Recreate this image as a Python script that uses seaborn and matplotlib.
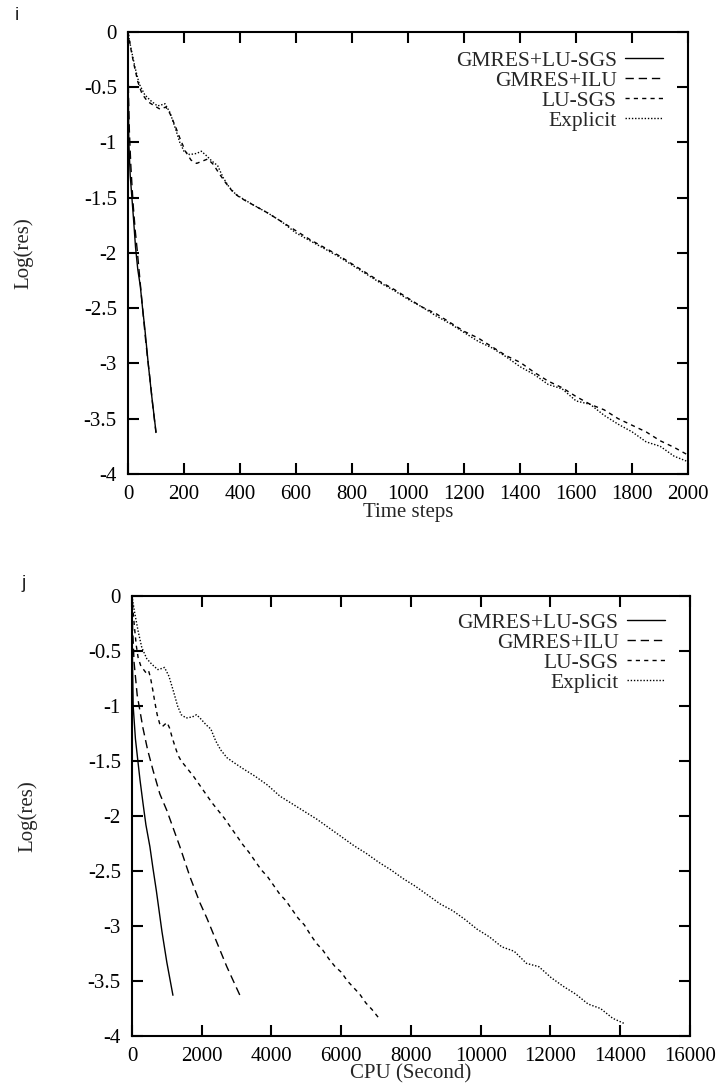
import matplotlib
matplotlib.use("Agg")
import matplotlib.pyplot as plt
import seaborn as sns

# ---------------- data: panel i (time steps) ----------------
gl_steps = [0, 1, 3, 8, 14, 20, 27, 35, 44, 52, 60, 73, 85, 100]
gl_res = [0, -0.5, -1.0, -1.3, -1.5, -1.7, -1.95, -2.15, -2.3, -2.5, -2.68, -3.02, -3.3, -3.62]

gi_steps = [0, 0.6, 2, 5, 10, 14.5, 19, 26, 32, 44, 54, 63, 69, 79, 88, 100]
gi_res = [0, -0.3, -0.6, -0.9, -1.2, -1.4, -1.58, -1.8, -1.95, -2.28, -2.55, -2.79, -2.93, -3.15, -3.37, -3.63]

lu_steps = [0, 10, 20, 35, 50, 70, 95, 115, 135, 150, 170, 185, 205, 225, 245, 265, 285, 305, 325, 350,
            375, 400, 450, 500, 550, 600, 650, 700, 750, 800, 850, 900, 950, 1000, 1050, 1100, 1150, 1200,
            1250, 1300, 1350, 1400, 1450, 1500, 1550, 1600, 1650, 1700, 1750, 1800, 1850, 1900, 1950, 2000]
lu_res = [0, -0.15, -0.28, -0.45, -0.56, -0.63, -0.67, -0.70, -0.68, -0.74, -0.86, -0.96, -1.08, -1.16,
          -1.19, -1.17, -1.15, -1.20, -1.28, -1.37, -1.45, -1.50, -1.57, -1.64, -1.72, -1.80, -1.88, -1.95,
          -2.02, -2.10, -2.18, -2.26, -2.33, -2.41, -2.49, -2.55, -2.63, -2.71, -2.77, -2.85, -2.93, -2.99,
          -3.08, -3.16, -3.22, -3.30, -3.37, -3.42, -3.50, -3.56, -3.62, -3.70, -3.76, -3.83]

ex_steps = [0, 10, 25, 40, 60, 80, 105, 120, 132, 150, 170, 185, 200, 220, 245, 262, 280, 300, 320, 340,
            360, 385, 410, 450, 500, 550, 600, 650, 700, 750, 800, 850, 900, 950, 1000, 1050, 1100, 1150,
            1200, 1250, 1300, 1350, 1400, 1450, 1500, 1550, 1600, 1650, 1700, 1750, 1800, 1850, 1900, 1950, 2000]
ex_res = [0, -0.14, -0.32, -0.47, -0.57, -0.62, -0.67, -0.66, -0.65, -0.73, -0.88, -1.00, -1.08, -1.11,
          -1.10, -1.08, -1.12, -1.17, -1.21, -1.32, -1.40, -1.47, -1.51, -1.57, -1.64, -1.72, -1.82, -1.89,
          -1.96, -2.03, -2.11, -2.19, -2.27, -2.34, -2.42, -2.49, -2.57, -2.64, -2.72, -2.80, -2.86, -2.94,
          -3.03, -3.10, -3.19, -3.23, -3.34, -3.37, -3.47, -3.55, -3.62, -3.71, -3.75, -3.84, -3.89]

# ---------------- data: panel j (CPU seconds) ----------------
gl_cpu = [0, 12, 35, 100, 170, 230, 315, 400, 515, 600, 700, 860, 1000, 1175]
gl_cpu_res = [0, -0.5, -1.0, -1.3, -1.5, -1.67, -1.88, -2.08, -2.28, -2.47, -2.68, -3.05, -3.33, -3.63]

gi_cpu = [0, 20, 60, 150, 315, 450, 600, 800, 1000, 1375, 1660, 1950, 2150, 2435, 2720, 3095]
gi_cpu_res = [0, -0.3, -0.6, -0.9, -1.2, -1.4, -1.58, -1.8, -1.95, -2.28, -2.55, -2.79, -2.93, -3.15, -3.37, -3.63]

lu_cpu = [0, 35, 71, 124, 177, 247, 335, 406, 477, 530, 600, 653, 724, 794, 865, 935, 1006, 1077, 1147,
          1236, 1324, 1412, 1589, 1765, 1942, 2118, 2295, 2471, 2648, 2824, 3001, 3177, 3354, 3530, 3707,
          3883, 4060, 4236, 4413, 4589, 4766, 4942, 5119, 5295, 5472, 5648, 5825, 6001, 6178, 6354, 6531,
          6707, 6884, 7060]

ex_cpu = [0, 71, 177, 283, 424, 566, 742, 848, 933, 1061, 1202, 1308, 1414, 1555, 1732, 1852, 1980, 2121,
          2262, 2404, 2545, 2722, 2899, 3182, 3535, 3889, 4242, 4596, 4949, 5303, 5656, 6010, 6363, 6717,
          7070, 7424, 7777, 8131, 8484, 8838, 9191, 9545, 9898, 10252, 10605, 10959, 11312, 11666, 12019,
          12373, 12726, 13080, 13433, 13787, 14140]

labels = ["GMRES+LU-SGS", "GMRES+ILU", "LU-SGS", "Explicit"]
styles = ["-", (0, (6, 3.5)), (0, (3, 3)), (0, (1, 1.3))]

# ---------------- style ----------------
sns.set_theme(style="ticks")
plt.rcParams["font.family"] = ["Liberation Serif", "DejaVu Serif"]
plt.rcParams["axes.linewidth"] = 1.5
plt.rcParams["xtick.direction"] = "in"
plt.rcParams["ytick.direction"] = "in"

fig = plt.figure(figsize=(7.21, 10.92), dpi=100)
ax1 = fig.add_axes([0.1775, 0.566, 0.777, 0.4048])
ax2 = fig.add_axes([0.183, 0.0513, 0.774, 0.403])

FS = 15
LFS = 15.5


def draw(ax, series, xlim, xticks, xlabel, bbox):
    for (x, y), lab, ls in zip(series, labels, styles):
        sns.lineplot(x=x, y=y, ax=ax, color="black", linestyle=ls, linewidth=1.0,
                     label=lab, estimator=None, sort=False)
    ax.set_xlim(*xlim)
    ax.set_ylim(-4, 0)
    ax.set_xticks(xticks)
    ax.set_xticklabels([str(t) for t in xticks])
    ax.set_yticks([0, -0.5, -1, -1.5, -2, -2.5, -3, -3.5, -4])
    ax.set_yticklabels(["0", "-0.5", "-1", "-1.5", "-2", "-2.5", "-3", "-3.5", "-4"])
    ax.tick_params(axis="both", which="major", length=8, width=1.5, labelsize=FS,
                   top=True, right=True, colors="black")
    ax.tick_params(axis="x", pad=8)
    ax.tick_params(axis="y", pad=8)
    ax.set_xlabel(xlabel, fontsize=FS, labelpad=-1)
    ax.set_ylabel("Log(res)", fontsize=FS, labelpad=36)
    for s in ax.spines.values():
        s.set_color("black")
    leg = ax.legend(loc="upper right", bbox_to_anchor=bbox, frameon=False, markerfirst=False,
                    fontsize=LFS, handlelength=1.75, handletextpad=0.4, labelspacing=0.0,
                    borderpad=0, borderaxespad=0)
    for h in leg.get_lines():
        h.set_linewidth(1.0)


draw(ax1, [(gl_steps, gl_res), (gi_steps, gi_res), (lu_steps, lu_res), (ex_steps, ex_res)],
     (0, 2000), list(range(0, 2001, 200)), "Time steps", (0.955, 0.958))
draw(ax2, [(gl_cpu, gl_cpu_res), (gi_cpu, gi_cpu_res), (lu_cpu, lu_res), (ex_cpu, ex_res)],
     (0, 16000), list(range(0, 16001, 2000)), "CPU (Second)", (0.955, 0.962))

fig.text(17 / 721, 1 - 15 / 1092, "i", fontsize=14, family=["Liberation Sans", "DejaVu Sans"],
         ha="center", va="center")
fig.text(24 / 721, 1 - 583 / 1092, "j", fontsize=14, family=["Liberation Sans", "DejaVu Sans"],
         ha="center", va="center")

fig.savefig("out.png", dpi=100)
